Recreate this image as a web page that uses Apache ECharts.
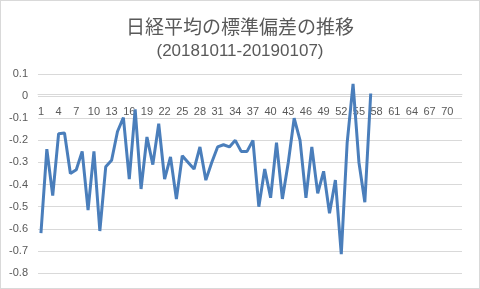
<!DOCTYPE html>
<html><head><meta charset="utf-8">
<script src="https://cdn.jsdelivr.net/npm/echarts@6/dist/echarts.min.js"></script>
<style>
html,body{margin:0;padding:0;background:#fff;}
#c{width:480px;height:289px;box-sizing:border-box;border:1px solid #d9d9d9;}
</style></head>
<body><div id="c"></div>
<script>
const titleText = '日経平均の標準偏差の推移';
const subtitleText = '(20181011-20190107)';
const categories = [1,2,3,4,5,6,7,8,9,10,11,12,13,14,15,16,17,18,19,20,21,22,23,24,25,26,27,28,29,30,31,32,33,34,35,36,37,38,39,40,41,42,43,44,45,46,47,48,49,50,51,52,53,54,55,56,57,58,59,60,61,62,63,64,65,66,67,68,69,70,71,72];
const values = [-0.62,-0.24,-0.45,-0.17,-0.167,-0.35,-0.333,-0.25,-0.515,-0.25,
  -0.61,-0.32,-0.29,-0.16,-0.097,-0.375,-0.06,-0.42,-0.185,-0.31,
  -0.125,-0.375,-0.275,-0.465,-0.27,-0.30,-0.33,-0.23,-0.38,-0.30,
  -0.23,-0.22,-0.23,-0.20,-0.25,-0.25,-0.20,-0.50,-0.33,-0.46,
  -0.21,-0.465,-0.30,-0.10,-0.20,-0.46,-0.23,-0.44,-0.34,-0.53,
  -0.38,-0.715,-0.21,0.055,-0.30,-0.48,0.012];
const yMin = -0.8, yMax = 0.1, yStep = 0.1;

const gridTop = 73, gridBottom = 15, chartH = 289;
const plotH = chartH - gridTop - gridBottom;
// place the category axis where the value axis crosses zero
const zeroOffset = -plotH * (0 - yMin) / (yMax - yMin);

const chart = echarts.init(document.getElementById('c'), null, {renderer:'canvas'});
chart.setOption({
  animation:false,
  title:[
    {text:titleText, left:'center', top:11, textStyle:{fontFamily:'Noto Sans CJK JP', fontSize:19, fontWeight:'normal', color:'#595959'}},
    {text:subtitleText, left:'center', top:37, textStyle:{fontFamily:'Liberation Sans', fontSize:17, fontWeight:'normal', color:'#595959'}}
  ],
  grid:{left:37, right:17, top:gridTop, bottom:gridBottom, containLabel:false},
  xAxis:{type:'category', data:categories, boundaryGap:true, position:'bottom', offset:zeroOffset,
    axisLine:{onZero:false, lineStyle:{color:'#d9d9d9'}},
    axisTick:{show:false},
    axisLabel:{interval:2, color:'#595959', fontSize:11, fontFamily:'Liberation Sans', margin:12}
  },
  yAxis:{type:'value', min:yMin, max:yMax, interval:yStep,
    axisLine:{show:false}, axisTick:{show:false},
    splitLine:{lineStyle:{color:'#d9d9d9'}},
    axisLabel:{color:'#595959', fontSize:11, fontFamily:'Liberation Sans', margin:10,
      formatter:v=>Math.abs(v)<1e-9?'0':v.toFixed(1)}
  },
  series:[{type:'line', data:values, showSymbol:false, symbol:'none',
    lineStyle:{color:'#4a7ebb', width:3}, itemStyle:{color:'#4a7ebb'}}]
});
</script></body></html>
